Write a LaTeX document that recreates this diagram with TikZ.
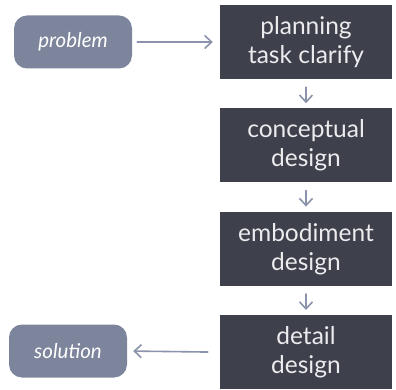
\documentclass[tikz,border=0pt]{standalone}
\usepackage{fontspec}
\setmainfont{Lato}
\usetikzlibrary{arrows.meta,positioning}
\definecolor{stagefill}{HTML}{3E404C}
\definecolor{stagetext}{HTML}{ECECEE}
\definecolor{endfill}{HTML}{7D859C}
\definecolor{flowline}{HTML}{8A93AB}
\begin{document}
\begin{tikzpicture}[x=1pt,y=1pt,line join=round,line cap=round,
	stage/.style={fill=stagefill,text=stagetext,minimum width=172pt,minimum height=74pt,inner sep=0pt,align=center,font=\fontsize{24.5}{29}\selectfont},
	terminal/.style={fill=endfill,text=white,rounded corners=13pt,minimum width=118pt,minimum height=53pt,inner sep=0pt,font=\fontsize{20.5}{24}\selectfont\itshape},
	flow/.style={draw=flowline,line width=1.6pt,-{Straight Barb[length=7pt,width=13pt,line width=1.6pt]}}]
	\useasboundingbox (0,0) rectangle (396,-390);
	\node[stage] (plan) at (306,-42) {planning\\task clarify};
	\node[stage,below=29pt of plan] (concept) {conceptual\\design};
	\node[stage,below=29pt of concept] (embody) {embodiment\\design};
	\node[stage,below=29pt of embody] (detail) {detail\\design};
	\node[terminal] (problem) at (73,-42) {problem};
	\node[terminal] (solution) at (68,-351) {solution};
	\draw[flow,shorten <=5pt,shorten >=7pt] (problem) -- (plan);
	\draw[flow,shorten <=8pt,shorten >=5pt] (plan) -- (concept);
	\draw[flow,shorten <=8pt,shorten >=5pt] (concept) -- (embody);
	\draw[flow,shorten <=8pt,shorten >=5pt] (embody) -- (detail);
	\draw[flow,shorten <=12pt,shorten >=6pt] (detail.west) -- (solution.east);
\end{tikzpicture}
\end{document}
